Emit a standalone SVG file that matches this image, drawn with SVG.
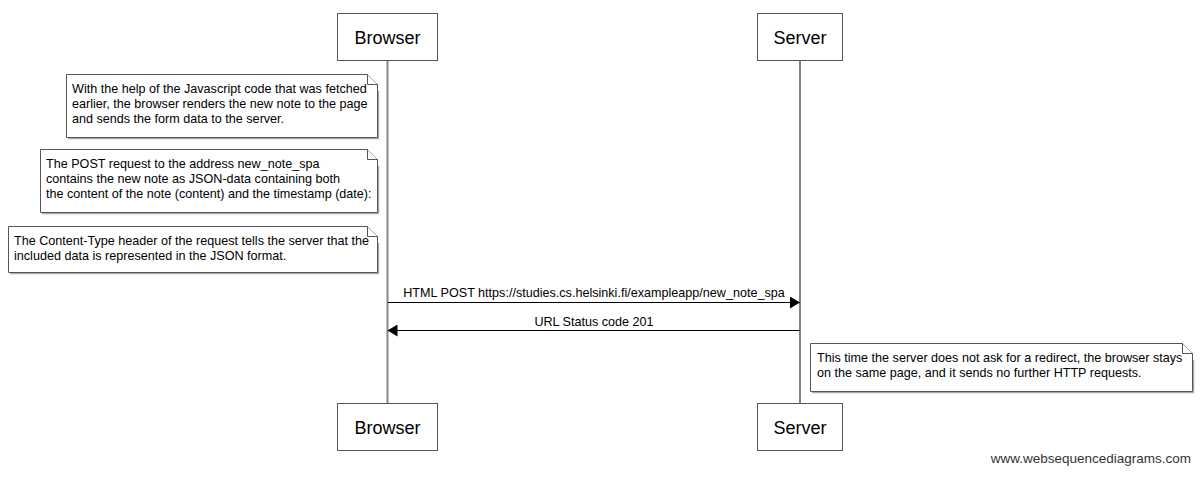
<svg xmlns="http://www.w3.org/2000/svg" width="1200" height="483" viewBox="0 0 1200 483">
<defs>
<style>
.actor{fill:#fff;stroke:#555;stroke-width:1}
.atext{font-family:"Liberation Sans",Arial,sans-serif;font-size:18px;fill:#000;text-anchor:middle}
.note{fill:#fff;stroke:#555;stroke-width:1}
.shadow{fill:none;stroke:#aaa;stroke-width:1.5}
.ntext{font-family:"Liberation Sans",Arial,sans-serif;font-size:12.6px;fill:#000}
.ltext{font-family:"Liberation Sans",Arial,sans-serif;font-size:12.6px;fill:#000;text-anchor:middle}
.msg{stroke:#000;stroke-width:1;fill:none}
.foot{font-family:"Liberation Sans",Arial,sans-serif;font-size:13.5px;fill:#333;text-anchor:end}
</style>
<marker id="ah" viewBox="0 0 10 12" refX="10" refY="6" markerWidth="10" markerHeight="12" markerUnits="userSpaceOnUse" orient="auto">
<path d="M0,0 L10,6 L0,12 Z" fill="#000"/>
</marker>
</defs>
<rect width="1200" height="483" fill="#fff"/>

<g id="lifelines">
<line x1="387.5" y1="61" x2="387.5" y2="403" stroke="#888" stroke-width="2"/>
<line x1="800" y1="61" x2="800" y2="403" stroke="#000" stroke-width="1"/>
</g>

<g id="browser-top">
<rect class="actor" x="337.5" y="13.5" width="100" height="47"/>
<text class="atext" x="387.5" y="44">Browser</text>
</g>
<g id="server-top">
<rect class="actor" x="757.5" y="13.5" width="85" height="47"/>
<text class="atext" x="800" y="44">Server</text>
</g>
<g id="browser-bottom">
<rect class="actor" x="337.5" y="403.5" width="100" height="47"/>
<text class="atext" x="387.5" y="434">Browser</text>
</g>
<g id="server-bottom">
<rect class="actor" x="757.5" y="403.5" width="85" height="47"/>
<text class="atext" x="800" y="434">Server</text>
</g>

<g id="note1">
<path class="shadow" d="M378.5,91 V138.5 H68"/>
<path class="note" d="M66.5,74.5 H367.5 L377.5,84.5 V137.5 H66.5 Z"/>
<path class="note" d="M367.5,74.5 V84.5 H377.5"/>
<text class="ntext" x="72" y="93">With the help of the Javascript code that was fetched</text>
<text class="ntext" x="72" y="108">earlier, the browser renders the new note to the page</text>
<text class="ntext" x="72" y="123">and sends the form data to the server.</text>
</g>

<g id="note2">
<path class="shadow" d="M378.5,166 V213.5 H42"/>
<path class="note" d="M40.5,149.5 H367.5 L377.5,159.5 V212.5 H40.5 Z"/>
<path class="note" d="M367.5,149.5 V159.5 H377.5"/>
<text class="ntext" x="46" y="168">The POST request to the address new_note_spa</text>
<text class="ntext" x="46" y="183">contains the new note as JSON-data containing both</text>
<text class="ntext" x="46" y="198">the content of the note (content) and the timestamp (date):</text>
</g>

<g id="note3">
<path class="shadow" d="M378.5,243 V273.5 H10"/>
<path class="note" d="M8.5,226.5 H367.5 L377.5,236.5 V272.5 H8.5 Z"/>
<path class="note" d="M367.5,226.5 V236.5 H377.5"/>
<text class="ntext" x="14" y="245">The Content-Type header of the request tells the server that the</text>
<text class="ntext" x="14" y="260">included data is represented in the JSON format.</text>
</g>

<g id="connectors">
<line class="msg" x1="388" y1="302.5" x2="800" y2="302.5" marker-end="url(#ah)"/>
<text class="ltext" x="594" y="297">HTML POST https://studies.cs.helsinki.fi/exampleapp/new_note_spa</text>
<line class="msg" x1="799.5" y1="330.5" x2="387.5" y2="330.5" marker-end="url(#ah)"/>
<text class="ltext" x="594" y="326">URL Status code 201</text>
</g>

<g id="note4">
<path class="shadow" d="M1193.5,360 V392.5 H812"/>
<path class="note" d="M810.5,343.5 H1182.5 L1192.5,353.5 V391.5 H810.5 Z"/>
<path class="note" d="M1182.5,343.5 V353.5 H1192.5"/>
<text class="ntext" x="817" y="362">This time the server does not ask for a redirect, the browser stays</text>
<text class="ntext" x="817" y="377">on the same page, and it sends no further HTTP requests.</text>
</g>

<text class="foot" x="1191" y="463">www.websequencediagrams.com</text>
</svg>
